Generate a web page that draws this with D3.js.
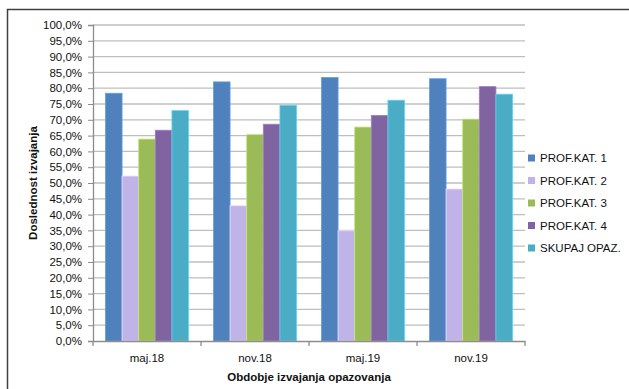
<!DOCTYPE html>
<html>
<head>
<meta charset="utf-8">
<script src="https://cdn.jsdelivr.net/npm/d3@7"></script>
<style>
  html, body { margin: 0; padding: 0; background: #fff; }
  svg { display: block; }
</style>
</head>
<body>
<svg id="chart" width="629" height="389"></svg>
<script>
// Observation periods and series
const periods = ["maj.18", "nov.18", "maj.19", "nov.19"];
const seriesNames = ["PROF.KAT. 1", "PROF.KAT. 2", "PROF.KAT. 3", "PROF.KAT. 4", "SKUPAJ OPAZ."];
const seriesColors = ["#4F81BD", "#C0B3E8", "#9BBB59", "#8064A2", "#4BACC6"];
const kat1 = [78.4, 82.0, 83.4, 83.0];
const kat2 = [52.2, 42.8, 34.9, 48.1];
const kat3 = [63.9, 65.3, 67.7, 70.2];
const kat4 = [66.7, 68.6, 71.4, 80.5];
const skupaj = [72.9, 74.6, 76.2, 78.1];
const yTicks = d3.range(0, 101, 5);

const seriesValues = [kat1, kat2, kat3, kat4, skupaj];

const svg = d3.select("#chart");
const font = "'Liberation Sans', Arial, sans-serif";

// Outer frame
svg.append("path")
  .attr("d", "M7.5,389 V9.5 H629")
  .attr("fill", "none").attr("stroke", "#404040").attr("stroke-width", 1.5);

const plot = { left: 93, right: 525, top: 25, bottom: 341 };

const x = d3.scaleBand().domain(periods).range([plot.left, plot.right]).paddingInner(0).paddingOuter(0);
const inner = d3.scaleBand().domain(d3.range(seriesNames.length))
  .range([0, x.bandwidth()]).paddingInner(0).paddingOuter(0.75 / (1 - 0));
// gap of 1.5 bar widths split on both sides of each cluster
inner.range([x.bandwidth() * (0.75 / 6.5), x.bandwidth() * (1 - 0.75 / 6.5)]).paddingOuter(0);
const y = d3.scaleLinear().domain([0, 100]).range([plot.bottom, plot.top]);

// Horizontal gridlines
svg.append("g").selectAll("line").data(yTicks.filter(d => d > 0)).join("line")
  .attr("x1", plot.left).attr("x2", plot.right)
  .attr("y1", d => y(d)).attr("y2", d => y(d))
  .attr("stroke", "#BEBEBE").attr("stroke-width", 1.3);

// Y axis
const yAxis = svg.append("g").attr("transform", `translate(${plot.left},0)`)
  .call(d3.axisLeft(y).tickValues(yTicks).tickSize(5).tickPadding(6)
    .tickFormat(d => d3.format(".1f")(d).replace(".", ",") + "%"));
yAxis.select(".domain").attr("stroke", "#8C8C8C").attr("stroke-width", 1.3);
yAxis.selectAll(".tick line").attr("stroke", "#8C8C8C");
yAxis.selectAll("text").attr("font-family", font).attr("font-size", 11.5).attr("fill", "#111");

// Bars
const groups = svg.append("g").selectAll("g").data(periods).join("g")
  .attr("transform", d => `translate(${x(d)},0)`);
groups.selectAll("rect")
  .data((p, i) => seriesValues.map((vals, s) => ({ s, v: vals[i] })))
  .join("rect")
  .attr("x", d => inner(d.s))
  .attr("width", inner.bandwidth())
  .attr("y", d => y(d.v))
  .attr("height", d => y(0) - y(d.v))
  .attr("fill", d => seriesColors[d.s])
  .attr("stroke", d => d3.color(seriesColors[d.s]).brighter(0.6))
  .attr("stroke-width", 0.8);

// X axis
const xAxis = svg.append("g").attr("transform", `translate(0,${plot.bottom})`)
  .call(d3.axisBottom(x).tickSize(0).tickPadding(13));
xAxis.select(".domain").attr("stroke", "#8C8C8C").attr("stroke-width", 1.3);
xAxis.selectAll("text").attr("font-family", font).attr("font-size", 11.5).attr("fill", "#111");
// boundary ticks between periods
svg.append("g").selectAll("line")
  .data(periods.map(p => x(p)).concat([plot.right]))
  .join("line")
  .attr("x1", d => d).attr("x2", d => d)
  .attr("y1", plot.bottom).attr("y2", plot.bottom + 5)
  .attr("stroke", "#8C8C8C").attr("stroke-width", 1.3);

// Axis titles
svg.append("text")
  .attr("transform", `translate(37,${(plot.top + plot.bottom) / 2}) rotate(-90)`)
  .attr("text-anchor", "middle")
  .attr("font-family", font).attr("font-size", 11.5).attr("font-weight", "bold")
  .attr("fill", "#111").text("Doslednost  izvajanja");

svg.append("text")
  .attr("x", (plot.left + plot.right) / 2).attr("y", 381)
  .attr("text-anchor", "middle")
  .attr("font-family", font).attr("font-size", 11.5).attr("font-weight", "bold")
  .attr("fill", "#111").text("Obdobje  izvajanja  opazovanja");

// Legend
const legend = svg.append("g").attr("transform", "translate(528,158)");
const items = legend.selectAll("g").data(seriesNames).join("g")
  .attr("transform", (d, i) => `translate(0,${i * 22.5})`);
items.append("rect")
  .attr("x", 0).attr("y", -3.5).attr("width", 7).attr("height", 7)
  .attr("fill", (d, i) => seriesColors[i]);
items.append("text")
  .attr("x", 12).attr("y", 0).attr("dy", "0.35em")
  .attr("font-family", font).attr("font-size", 11.5).attr("fill", "#111")
  .text(d => d);
</script>
</body>
</html>
